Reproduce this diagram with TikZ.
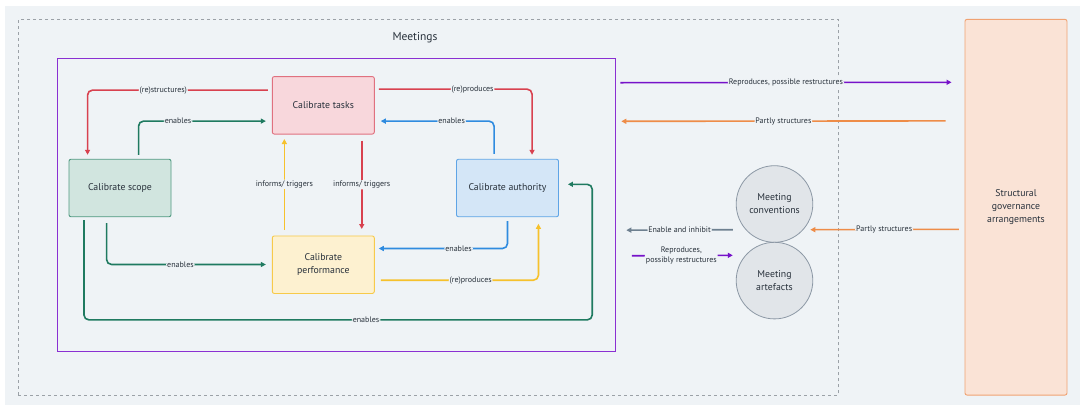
\documentclass[tikz,border=0pt]{standalone}
\usepackage{fontspec}
\setmainfont{PT Sans}
\usetikzlibrary{arrows.meta,calc,shapes.geometric}
\definecolor{bgc}{HTML}{EFF3F6}
\definecolor{txt}{HTML}{28313B}
\definecolor{redl}{HTML}{D8414F}
\definecolor{redfill}{HTML}{F8D7DC}
\definecolor{redbd}{HTML}{E0717F}
\definecolor{grn}{HTML}{1F7A60}
\definecolor{grnfill}{HTML}{D1E5DF}
\definecolor{grnbd}{HTML}{4F9980}
\definecolor{blu}{HTML}{2F8BDF}
\definecolor{blufill}{HTML}{D4E6F7}
\definecolor{blubd}{HTML}{5EA4E6}
\definecolor{yel}{HTML}{F6C12C}
\definecolor{yelfill}{HTML}{FDF1D0}
\definecolor{yelbd}{HTML}{F7CA4A}
\definecolor{pur}{HTML}{7612C9}
\definecolor{purbd}{HTML}{8A2FD2}
\definecolor{ora}{HTML}{EE8C48}
\definecolor{orafill}{HTML}{FAE3D6}
\definecolor{orabd}{HTML}{F0A272}
\definecolor{gry}{HTML}{6E8090}
\definecolor{circfill}{HTML}{E1E5E9}
\definecolor{circbd}{HTML}{8C98A5}
\definecolor{dashc}{HTML}{9BA1A7}
\tikzset{
  box/.style={draw, line width=0.9pt, rounded corners=2pt, minimum width=102pt, minimum height=57.5pt, inner sep=2pt, align=center, text=txt, font=\fontsize{9.8}{13}\selectfont},
  circ/.style={circle, draw=circbd, fill=circfill, line width=0.8pt, minimum size=76.6pt, inner sep=0pt, align=center, text=txt, font=\fontsize{9.8}{13}\selectfont},
  conn/.style={line width=1.6pt, rounded corners=5pt, -{Triangle[length=5pt,width=5pt]}},
  lbl/.style={fill=bgc, inner sep=1pt, text=txt, font=\fontsize{8}{9}\selectfont},
  lbltwo/.style={fill=bgc, inner sep=1pt, text=txt, align=center, font=\fontsize{8}{10.7}\selectfont}
}
\begin{document}
\begin{tikzpicture}[x=1pt,y=-1pt]
\useasboundingbox (0,0) rectangle (1080,405);
\fill[bgc] (5,6) rectangle (1080,405);

% containers
\node[draw=dashc, line width=0.9pt, dash pattern=on 3pt off 3pt, minimum width=820pt, minimum height=375.7pt, inner sep=0pt, anchor=north west] (meet) at (17.9,19.3) {};
\node[text=txt, font=\fontsize{11.5}{13}\selectfont] (mtitle) at (415,37.7) {Meetings};
\node[draw=purbd, line width=0.9pt, minimum width=558.6pt, minimum height=293pt, inner sep=0pt, anchor=north west] (frame) at (56.8,57.7) {};

% boxes
\node[box, draw=redbd, fill=redfill] (tasks) at (323.3,105.3) {Calibrate tasks};
\node[box, draw=grnbd, fill=grnfill] (scope) at (120,188) {Calibrate scope};
\node[box, draw=blubd, fill=blufill] (auth) at (507.5,188) {Calibrate authority};
\node[box, draw=yelbd, fill=yelfill] (perf) at (323.3,264.7) {Calibrate\\performance};
\node[box, draw=orabd, fill=orafill, minimum width=102pt, minimum height=375.7pt] (struct) at (1016,207.2) {Structural\\governance\\arrangements};
\node[circ] (conv) at (774.5,204) {Meeting\\conventions};
\node[circ] (art) at (774.5,280.6) {Meeting\\artefacts};

% connectors inside frame
\draw[conn, redl] ($(tasks.north west)+(-4,14)$) -| node[lbl, pos=0.29] {(re)structures)} ($(scope.north west)+(19,-4)$);
\draw[conn, grn] ($(scope.north west)+(70,-4)$) |- node[lbl, pos=0.655] {enables} ($(tasks.north west)+(-6,45)$);
\draw[conn, redl] ($(tasks.north east)+(4,13)$) -| node[lbl, pos=0.306] {(re)produces} ($(auth.north west)+(76,-4)$);
\draw[conn, blu] ($(auth.north west)+(38,-5)$) |- node[lbl, pos=0.687] {enables} ($(tasks.north east)+(6,45)$);
\draw[conn, yel] ($(perf.north west)+(12.5,-6)$) -- node[lbl, pos=0.5] {informs/ triggers} ($(tasks.south west)+(12.5,4.5)$);
\draw[conn, redl] ($(tasks.south east)+(-13,6)$) -- node[lbl, pos=0.5] {informs/ triggers} ($(perf.north east)+(-13,-6.5)$);
\draw[conn, grn] ($(scope.south west)+(38,6)$) |- node[lbl, pos=0.732] {enables} ($(perf.north west)+(-6,29)$);
\draw[conn, blu] ($(auth.south)+(0,4)$) |- node[lbl, pos=0.69] {enables} ($(perf.north east)+(4,13)$);
\draw[conn, yel] ($(perf.north east)+(6,44.7)$) -| node[lbl, pos=0.285] {(re)produces} ($(auth.south west)+(82.4,6.6)$);
\draw[conn, grn] ($(scope.south west)+(15.4,3)$) -- ++(0,99.7) -- node[lbl, pos=0.555] {enables} ++(508.3,0) |- ($(auth.east)+(9,-3.7)$);

% connectors outside frame
\draw[conn, pur] ($(frame.north east)+(4,25)$) -- node[lbl, pos=0.5] {Reproduces, possible restructures} ($(struct.north west)+(-13,63.4)$);
\draw[conn, ora] ($(struct.north west)+(-19,102)$) -- node[lbl, pos=0.5] {Partly structures} ($(frame.north east)+(5,63.6)$);
\draw[conn, gry] ($(conv.center)+(-41.7,25.7)$) -- node[lbl, pos=0.5] {Enable and inhibit} ($(frame.east)+(10,25.5)$);
\draw[conn, pur] ($(frame.east)+(15.6,51.1)$) -- node[lbltwo, pos=0.49] {Reproduces,\\possibly restructures} ($(art.center)+(-41.7,-25.3)$);
\draw[conn, ora] ($(struct.north west)+(-5.6,210.4)$) -- node[lbl, pos=0.503] {Partly structures} ($(conv.center)+(35.8,25.7)$);
\end{tikzpicture}
\end{document}
